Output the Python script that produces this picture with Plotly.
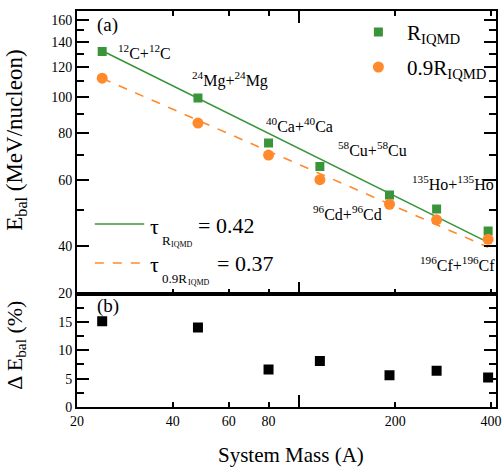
import numpy as np
import plotly.graph_objects as go

# ---------------- data ----------------
system_mass = [24, 48, 80, 116, 192, 270, 392]
systems = ["<sup>12</sup>C+<sup>12</sup>C", "<sup>24</sup>Mg+<sup>24</sup>Mg",
           "<sup>40</sup>Ca+<sup>40</sup>Ca", "<sup>58</sup>Cu+<sup>58</sup>Cu",
           "<sup>96</sup>Cd+<sup>96</sup>Cd", "<sup>135</sup>Ho+<sup>135</sup>Ho",
           "<sup>196</sup>Cf+<sup>196</sup>Cf"]
e_bal_r = [132, 99.2, 75.4, 65.3, 54.8, 50.3, 44.0]
e_bal_09r = [112, 85.1, 70.0, 60.2, 51.8, 47.1, 41.8]
delta_e_bal = [15.1, 14.0, 6.6, 8.1, 5.6, 6.4, 5.2]
tau_r = 0.42
tau_09r = 0.37
x_tickvals = [20, 40, 60, 80, 200, 400]
y_top_tickvals = [40, 60, 80, 100, 120, 140, 160]
y_top_minor = [50, 70, 90, 110, 130, 150]
y_bot_tickvals = [0, 5, 10, 15, 20]

GREEN = "#3a953a"
ORANGE = "#ff8a2c"
FONT = "Liberation Serif"


def power_fit(x, y, tau):
    lx, ly = np.log10(x), np.log10(y)
    c = np.mean(ly + tau * lx)
    return 10 ** (c - tau * lx)


fit_r = power_fit(system_mass, e_bal_r, tau_r)
fit_09r = power_fit(system_mass, e_bal_09r, tau_09r)

fig = go.Figure()
fig.add_trace(go.Scatter(x=system_mass, y=fit_r, mode="lines",
                         line=dict(color=GREEN, width=1.6), xaxis="x", yaxis="y"))
fig.add_trace(go.Scatter(x=system_mass, y=fit_09r, mode="lines",
                         line=dict(color=ORANGE, width=1.6, dash="dash"),
                         xaxis="x", yaxis="y"))
fig.add_trace(go.Scatter(x=system_mass, y=e_bal_r, mode="markers",
                         marker=dict(symbol="square", size=9, color=GREEN),
                         xaxis="x", yaxis="y"))
fig.add_trace(go.Scatter(x=system_mass, y=e_bal_09r, mode="markers",
                         marker=dict(symbol="circle", size=11, color=ORANGE),
                         xaxis="x", yaxis="y"))
fig.add_trace(go.Scatter(x=system_mass, y=delta_e_bal, mode="markers",
                         marker=dict(symbol="square", size=10, color="black"),
                         xaxis="x2", yaxis="y2"))

W, H = 504, 470
ML, MR, MT, MB = 77, 3, 11, 63
PW, PH = W - ML - MR, H - MT - MB
split = (407 - 293.5) / PH


def px(xp):
    return (xp - ML) / PW


def py(yp):
    return (H - MB - yp) / PH


xmax = 415
common_x = dict(type="log", range=[np.log10(20), np.log10(xmax)],
                tickvals=x_tickvals, ticks="inside", ticklen=5, tickwidth=1.5,
                tickcolor="black", showline=True, linecolor="black", linewidth=2,
                showgrid=False, zeroline=False, ticklabeloverflow="allow",
                minor=dict(tickvals=[100], ticks="inside", ticklen=12,
                           tickwidth=1.5, tickcolor="black", showgrid=False),
                tickfont=dict(family=FONT, size=14, color="black"))

annotations = []
# isotope labels
label_pos = [(116, 52), (191, 79), (266, 125), (339, 149), (314, 213), (414, 183), (422, 264)]
for txt, (lx, ly) in zip(systems, label_pos):
    annotations.append(dict(x=px(lx), y=py(ly), xref="paper", yref="paper",
                            text=txt, showarrow=False, xanchor="left", yanchor="middle",
                            font=dict(family=FONT, size=16, color="black")))
# panel labels
annotations.append(dict(x=px(95), y=py(25), xref="paper", yref="paper", text="(a)",
                        showarrow=False, xanchor="left", yanchor="middle",
                        font=dict(family=FONT, size=19, color="black")))
annotations.append(dict(x=px(95), y=py(306), xref="paper", yref="paper", text="(b)",
                        showarrow=False, xanchor="left", yanchor="middle",
                        font=dict(family=FONT, size=19, color="black")))
# legend (top right)
annotations.append(dict(x=px(409), y=py(34), xref="paper", yref="paper",
                        text="R<sub>IQMD</sub>", showarrow=False, xanchor="left",
                        yanchor="middle", font=dict(family=FONT, size=21, color="black")))
annotations.append(dict(x=px(409), y=py(69), xref="paper", yref="paper",
                        text="0.9R<sub>IQMD</sub>", showarrow=False, xanchor="left",
                        yanchor="middle", font=dict(family=FONT, size=21, color="black")))
# tau legend (bottom left)
for (t, yy, sub1, sub1x, sub2x, eqx, eq) in [
        ("τ", 226, "R", 161, 170, 197, "= %.2f" % tau_r),
        ("τ", 264, "0.9R", 161, 187, 217, "= %.2f" % tau_09r)]:
    annotations.append(dict(x=px(149), y=py(yy), xref="paper", yref="paper", text=t,
                            showarrow=False, xanchor="left", yanchor="middle",
                            font=dict(family=FONT, size=22, color="black")))
    annotations.append(dict(x=px(sub1x), y=py(yy + 14), xref="paper", yref="paper",
                            text=sub1, showarrow=False, xanchor="left", yanchor="middle",
                            font=dict(family=FONT, size=13, color="black")))
    annotations.append(dict(x=px(sub2x), y=py(yy + 18), xref="paper", yref="paper",
                            text="IQMD", showarrow=False, xanchor="left", yanchor="middle",
                            font=dict(family=FONT, size=8, color="black")))
    annotations.append(dict(x=px(eqx), y=py(yy - 1), xref="paper", yref="paper",
                            text=eq, showarrow=False, xanchor="left", yanchor="middle",
                            font=dict(family=FONT, size=22, color="black")))
# axis titles
annotations.append(dict(x=px(294), y=py(455), xref="paper", yref="paper",
                        text="System Mass (A)", showarrow=False, xanchor="center",
                        yanchor="middle", font=dict(family=FONT, size=21, color="black")))
annotations.append(dict(x=px(15), y=py(140), xref="paper", yref="paper",
                        text="E<sub>bal</sub> (MeV/nucleon)", showarrow=False,
                        textangle=-90, xanchor="center", yanchor="middle",
                        font=dict(family=FONT, size=23, color="black")))
annotations.append(dict(x=px(15), y=py(345), xref="paper", yref="paper",
                        text="Δ E<sub>bal</sub> (%)", showarrow=False,
                        textangle=-90, xanchor="center", yanchor="middle",
                        font=dict(family=FONT, size=22, color="black")))

shapes = [
    dict(type="line", xref="paper", yref="paper", x0=px(95), x1=px(145),
         y0=py(224), y1=py(224), line=dict(color=GREEN, width=1.6)),
    dict(type="line", xref="paper", yref="paper", x0=px(95), x1=px(145),
         y0=py(263), y1=py(263), line=dict(color=ORANGE, width=1.6, dash="dash")),
]

# legend markers (top right), placed on a hidden full-plot-area axis pair
fig.add_trace(go.Scatter(x=[px(382)], y=[py(32)], mode="markers",
                         marker=dict(symbol="square", size=9, color=GREEN),
                         xaxis="x3", yaxis="y3"))
fig.add_trace(go.Scatter(x=[px(382)], y=[py(67)], mode="markers",
                         marker=dict(symbol="circle", size=11, color=ORANGE),
                         xaxis="x3", yaxis="y3"))

fig.update_layout(
    width=W, height=H, margin=dict(l=ML, r=MR, t=MT, b=MB),
    paper_bgcolor="white", plot_bgcolor="rgba(0,0,0,0)", showlegend=False,
    font=dict(family=FONT, color="black"),
    xaxis=dict(**common_x, anchor="y", showticklabels=False, mirror="ticks",
               matches="x2"),
    xaxis2=dict(**common_x, anchor="y2", showticklabels=True, mirror=True),
    yaxis=dict(type="log", domain=[split, 1], range=[np.log10(30), np.log10(169)],
               tickvals=y_top_tickvals, ticks="inside", ticklen=12, tickwidth=1.5,
               tickcolor="black", showline=True, linecolor="black", linewidth=2,
               mirror="ticks", showgrid=False, zeroline=False,
               minor=dict(tickvals=y_top_minor, ticks="inside", ticklen=7,
                          tickwidth=1.5, tickcolor="black", showgrid=False),
               tickfont=dict(family=FONT, size=14, color="black"), anchor="x"),
    yaxis2=dict(domain=[0, split], range=[0, 20], tickvals=y_bot_tickvals,
                ticks="inside", ticklen=12, tickwidth=1.5, tickcolor="black",
                showline=True, linecolor="black", linewidth=2, mirror="ticks",
                showgrid=False, zeroline=False,
                minor=dict(dtick=2.5, tick0=0, ticks="inside", ticklen=7,
                           tickwidth=1.5, tickcolor="black", showgrid=False),
                tickfont=dict(family=FONT, size=14, color="black"), anchor="x2"),
    xaxis3=dict(domain=[0, 1], range=[0, 1], visible=False, anchor="y3"),
    yaxis3=dict(domain=[0, 1], range=[0, 1], visible=False, anchor="x3"),
    annotations=annotations, shapes=shapes,
)

fig.write_html("out.html")
